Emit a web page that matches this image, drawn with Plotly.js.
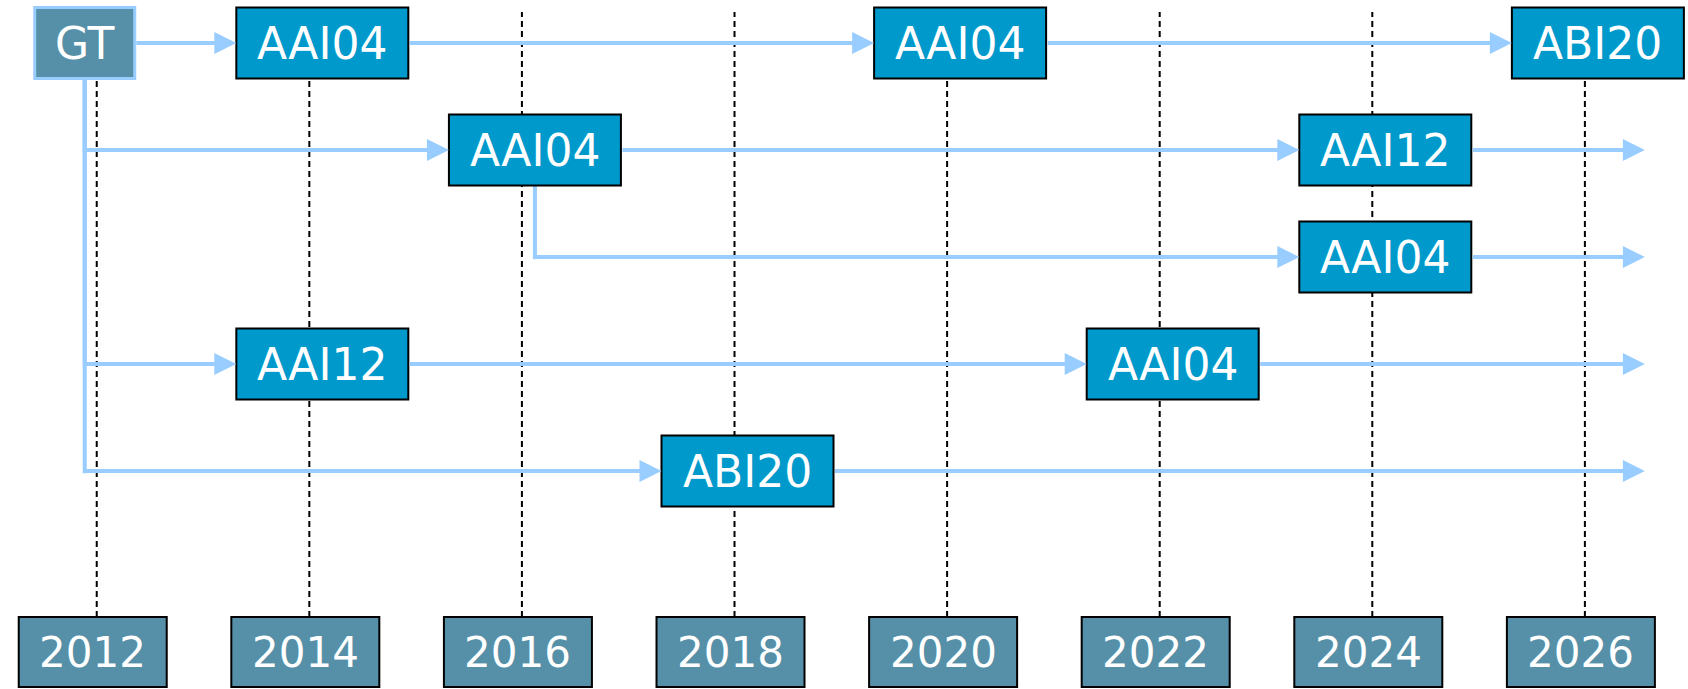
<!DOCTYPE html>
<html><head><meta charset="utf-8">
<script src="https://cdn.plot.ly/plotly-3.0.1.min.js"></script>
<style>html,body{margin:0;padding:0;background:#fff}#chart{width:1688px;height:689px}</style>
</head><body><div id="chart"></div>
<script>
// ---- data ----
const yearLabels = ['2012','2014','2016','2018','2020','2022','2024','2026'];
const years      = [2012, 2014, 2016, 2018, 2020, 2022, 2024, 2026];
const nodeLabels = ['GT','AAI04','AAI04','ABI20','AAI04','AAI12','AAI04','AAI12','AAI04','ABI20'];
const nodeYears  = [2012, 2014, 2020, 2026, 2016, 2024, 2024, 2014, 2022, 2018];
const nodeRows   = [1, 1, 1, 1, 2, 2, 3, 4, 4, 5];
const edgeFrom   = [0, 1, 2, 0, 4, 4, 0, 7, 0];
const edgeTo     = [1, 2, 3, 4, 5, 6, 7, 8, 9];
const openEnds   = [5, 6, 8, 9];

// ---- layout / style ----
const W = 1688, H = 689;
const xRange = [2011.09, 2026.97];
// row 1 at ~43px, 107px per row
const yRange = [1 + (H - 43) / 107, 1 - 43 / 107];
const ppy = W / (xRange[1] - xRange[0]);
const C = {node:'#0099cc', year:'#5590a8', edge:'#99ccff', text:'#ffffff', line:'#000000'};
const FONT = 'DejaVu Sans, Verdana, sans-serif';
const HH = 35.5;
const isRoot = nodeLabels.map((_, i) => !edgeTo.includes(i));
function st(i) {
  return isRoot[i]
    ? {hw: 50, shift: -12, fill: C.year, border: C.edge, bw: 3, fs: 44}
    : {hw: 86, shift: 13, fill: C.node, border: C.line, bw: 2, fs: 44};
}
const yearShift = -4, yearHW = 74, overhang = 60;

const shapes = [];
const annotations = [];

// dashed year guides
years.forEach(y => shapes.push({
  type: 'line', xref: 'x', x0: y, x1: y,
  yref: 'paper', ysizemode: 'pixel', yanchor: 0, y0: 72, y1: 677,
  line: {color: C.line, width: 2, dash: '6px,4px'}
}));

// vertical elbow segments
edgeFrom.forEach((a, k) => {
  const b = edgeTo[k];
  if (nodeRows[a] !== nodeRows[b]) {
    const s = st(a);
    shapes.push({
      type: 'line', xref: 'x', xsizemode: 'pixel', xanchor: nodeYears[a], x0: s.shift, x1: s.shift,
      yref: 'y', y0: nodeRows[a], y1: nodeRows[b] + 0.02,
      line: {color: C.edge, width: 4}
    });
  }
});

// node boxes
nodeLabels.forEach((lab, i) => {
  const s = st(i);
  shapes.push({
    type: 'rect', xref: 'x', xsizemode: 'pixel', xanchor: nodeYears[i],
    x0: s.shift - s.hw, x1: s.shift + s.hw,
    yref: 'y', ysizemode: 'pixel', yanchor: nodeRows[i], y0: -HH, y1: HH,
    fillcolor: s.fill, line: {color: s.border, width: s.bw}
  });
  annotations.push({
    x: nodeYears[i], y: nodeRows[i], xref: 'x', yref: 'y', xshift: s.shift,
    text: lab, showarrow: false, font: {family: FONT, size: s.fs, color: C.text}
  });
});

// year boxes
years.forEach((y, i) => {
  shapes.push({
    type: 'rect', xref: 'x', xsizemode: 'pixel', xanchor: y,
    x0: yearShift - yearHW, x1: yearShift + yearHW,
    yref: 'paper', ysizemode: 'pixel', yanchor: 0, y0: 2, y1: 72,
    fillcolor: C.year, line: {color: C.line, width: 2}
  });
  annotations.push({
    x: y, xref: 'x', xshift: yearShift, y: 0, yref: 'paper', yanchor: 'middle', yshift: 37,
    text: yearLabels[i], showarrow: false, font: {family: FONT, size: 42, color: C.text}
  });
});

// arrows
const arrowBase = {text: '', showarrow: true, axref: 'pixel', ayref: 'pixel', ay: 0,
  arrowcolor: C.edge, arrowwidth: 4, arrowhead: 2, arrowsize: 1.1, xref: 'x', yref: 'y'};
edgeFrom.forEach((a, k) => {
  const b = edgeTo[k];
  const sa = st(a), sb = st(b);
  const tail = nodeRows[a] === nodeRows[b] ? sa.shift + sa.hw : sa.shift;
  const head = sb.shift - sb.hw;
  const dist = (nodeYears[b] - nodeYears[a]) * ppy + head - tail;
  annotations.push(Object.assign({}, arrowBase, {
    x: nodeYears[b], y: nodeRows[b], xshift: head, ax: -dist
  }));
});
const maxYear = Math.max(...years);
openEnds.forEach(a => {
  const sa = st(a);
  const tail = sa.shift + sa.hw;
  const dist = (maxYear - nodeYears[a]) * ppy + overhang - tail;
  annotations.push(Object.assign({}, arrowBase, {
    x: maxYear, y: nodeRows[a], xshift: overhang, ax: -dist
  }));
});

const data = [{
  type: 'scatter', mode: 'markers', x: nodeYears, y: nodeRows,
  marker: {opacity: 0}, hoverinfo: 'skip', showlegend: false
}];

const layout = {
  width: W, height: H, margin: {l: 0, r: 0, t: 0, b: 0},
  paper_bgcolor: '#ffffff', plot_bgcolor: '#ffffff', showlegend: false,
  xaxis: {range: xRange, visible: false, showgrid: false, zeroline: false, fixedrange: true},
  yaxis: {range: yRange, visible: false, showgrid: false, zeroline: false, fixedrange: true},
  shapes: shapes, annotations: annotations
};
Plotly.newPlot('chart', data, layout, {staticPlot: true, displayModeBar: false});
</script>
</body></html>
